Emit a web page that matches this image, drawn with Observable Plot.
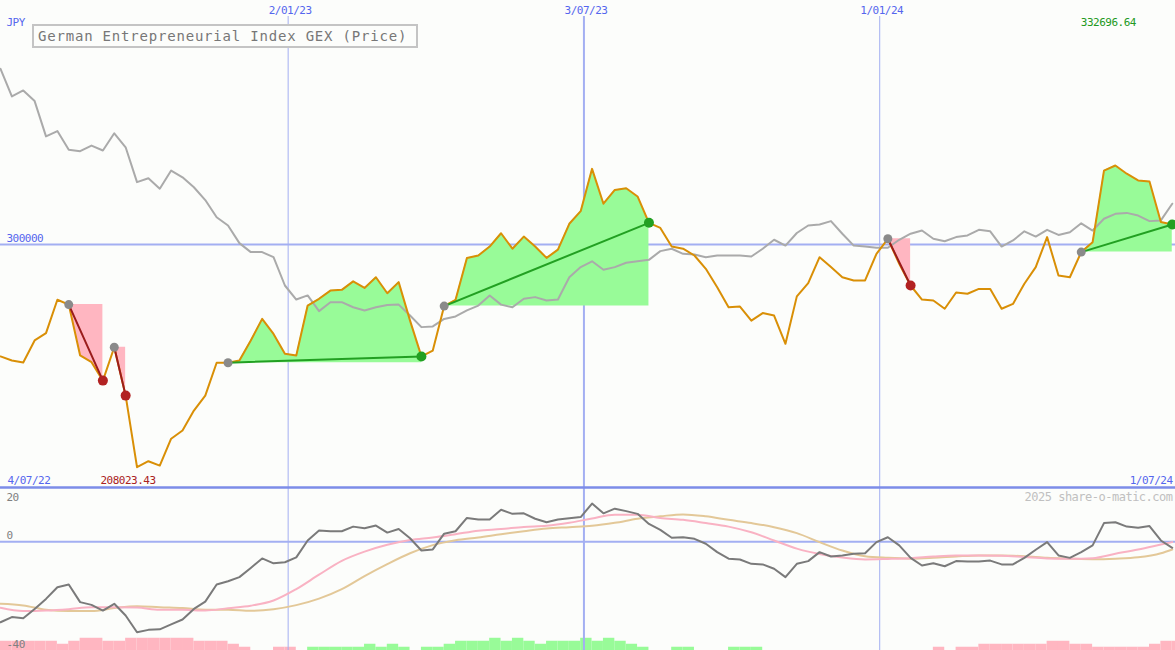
<!DOCTYPE html>
<html>
<head>
<meta charset="utf-8">
<script src="https://cdn.jsdelivr.net/npm/d3@7"></script>
<script src="https://cdn.jsdelivr.net/npm/@observablehq/plot@0.6"></script>
<style>
  html, body { margin: 0; padding: 0; background: #fcfdfb; }
  #wrap { position: relative; width: 1175px; height: 650px; overflow: hidden; background: #fcfdfb; }
  #top, #bot { position: absolute; left: 0; }
  #top { top: 0; }
  #bot { top: 487px; }
  #wrap svg { overflow: visible; }
  #wrap svg text { letter-spacing: -0.5px; }
  #title {
    position: absolute; left: 32px; top: 24px; width: 378px; height: 20px;
    padding-left: 4px; border: 2px solid #c4c4c4; background: #fcfdfb;
    font: 14px "DejaVu Sans Mono", monospace; letter-spacing: 0.8px;
    color: #777; line-height: 21px; white-space: nowrap;
  }
</style>
</head>
<body>
<div id="wrap">
  <div id="top"></div>
  <div id="bot"></div>
  <div id="title"></div>
</div>
<script>
// ---------------- data ----------------
const title = "German Entrepreneurial Index GEX (Price)";
const credit = "2025 share-o-matic.com";
const currency = "JPY";
const firstWeek = "2022-07-09";
const domainStart = "2022-07-09";
const domainEnd = "2024-07-01";
const gridDates = ["2023-01-02", "2023-07-03", "2024-01-01"];
const gridLabels = ["2/01/23", "3/07/23", "1/01/24"];
const startLabel = "4/07/22";
const endLabel = "1/07/24";
const refLevel = 300000;
const refLabel = "300000";
const minLabel = "208023.43";
const maxLabel = "332696.64";
const oscTicks = [20, 0, -40];

// weekly price (orange line)
const price = [
  253800, 252100, 251300, 260400, 263400, 277200, 275200, 254200, 251400, 243800,
  257600, 237600, 208023.43, 210500, 208700, 219800, 223200, 231400, 237600, 251200,
  251200, 252100, 260400, 269300, 263100, 254900, 254200, 274800, 277600, 281000,
  281300, 284800, 282100, 286500, 279900, 284500, 268600, 253800, 256200, 274600,
  277200, 294500, 295500, 299200, 304700, 298300, 303300, 299200, 294500, 297900,
  308600, 313800, 331300, 316900, 322600, 323300, 319900, 309000, 306900, 299200,
  298300, 295500, 290000, 282400, 274100, 274400, 268600, 271700, 270700, 259000,
  278600, 284100, 294800, 290700, 286500, 285200, 285200, 296200, 302400, 292100,
  283100, 277300, 276900, 273500, 280200, 279700, 281700, 281700, 273500, 275500,
  283800, 290700, 303100, 287200, 286500, 296900, 301000, 330600, 332696.64, 329300,
  326500, 326100, 309300, 308300
];

// comparison line (gray)
const compare = [
  372600, 361200, 363700, 359300, 344700, 346900, 339200, 338600, 340900, 338900,
  346000, 340200, 325800, 327400, 323100, 330600, 327800, 323700, 318400, 311300,
  307900, 300600, 296900, 296900, 294800, 283100, 277300, 279000, 272500, 276200,
  276200, 274100, 272800, 274100, 275000, 275200, 270700, 265900, 266200, 269300,
  270300, 272800, 274800, 279000, 275200, 274100, 277600, 278300, 276900, 277300,
  286500, 290700, 293100, 289600, 290700, 292500, 293100, 293700, 297300, 298300,
  296200, 295900, 294800, 295500, 295500, 295500, 295100, 298300, 302000, 299600,
  304800, 307900, 308300, 309700, 304500, 299600, 299200, 298700, 298700, 302000,
  304500, 305800, 302400, 301400, 303100, 303800, 306100, 305500, 299200, 301700,
  305500, 303300, 306100, 304000, 305100, 308800, 305800, 310700, 312700, 313100,
  312000, 309700, 310000, 316900
];

// trades (week index of entry and exit)
const tradeStart = [6, 10, 20, 39, 78, 95];
const tradeEnd   = [9, 11, 37, 57, 80, 103];

// lower panel oscillator (dark gray)
const osc = [
  -29.6, -27.7, -28.1, -24.7, -21.0, -16.7, -15.7, -22.2, -23.2, -25.3,
  -22.8, -27.1, -33.3, -32.4, -32.2, -30.4, -28.6, -24.7, -22.0, -15.7,
  -14.5, -13.0, -9.6, -6.1, -7.9, -7.5, -5.7, 0.5, 4.2, 3.9,
  3.9, 5.6, 5.0, 6.0, 3.4, 4.7, 1.3, -3.2, -2.8, 3.0,
  3.9, 8.8, 8.2, 8.2, 11.8, 10.3, 10.5, 8.5, 7.2, 8.2,
  8.7, 9.1, 14.1, 10.5, 12.2, 11.3, 10.3, 6.6, 4.4, 1.5,
  1.7, 1.1, -0.7, -3.8, -6.2, -6.5, -8.1, -8.3, -9.9, -13.0,
  -8.1, -7.1, -3.8, -5.4, -5.0, -4.4, -4.2, -0.1, 1.7, -1.3,
  -5.9, -8.7, -7.9, -9.0, -7.1, -7.2, -7.2, -6.9, -8.3, -8.3,
  -5.9, -2.9, -0.1, -5.0, -5.9, -3.8, -1.3, 6.9, 7.2, 5.6,
  5.2, 5.8, 0.5, -2.2
];

// smooth signal lines, sampled at these week indices
const smoothWeeks = [0,2,4,6,8,10,12,14,16,18,20,22,24,26,28,30,32,34,36,38,40,42,44,46,48,50,52,
  54,56,58,60,62,64,66,68,70,72,74,76,78,80,82,84,86,88,90,92,94,96,98,100,102,103];
const pinkAvg = [
  -24.3, -25.5, -25.3, -24.8, -24.1, -24.1, -24.2, -25.0, -25.0, -25.3,
  -24.4, -23.5, -21.6, -17.4, -12.1, -7.0, -3.6, -1.1, 0.7, 1.6,
  2.8, 4.1, 4.7, 5.5, 5.9, 7.0, 8.6,
  10.0, 10.0, 8.8, 8.1, 6.9, 5.6, 3.5, 0.5, -2.5, -4.5,
  -5.8, -6.5, -6.3, -6.0, -5.4, -5.0, -5.0, -5.1, -5.6, -6.1,
  -6.2, -6.0, -4.4, -2.8, -1.0, -0.1
];
const tanAvg = [
  -22.8, -23.4, -25.0, -25.5, -25.5, -24.4, -23.7, -24.1, -24.4, -25.0,
  -25.0, -25.4, -24.8, -23.3, -20.9, -17.4, -12.6, -8.2, -4.2, -1.2,
  0.6, 1.6, 2.8, 3.9, 4.9, 5.4, 5.9,
  7.0, 8.5, 9.4, 10.1, 9.4, 8.1, 6.9, 5.4, 3.2, -0.1,
  -3.2, -5.3, -5.9, -6.2, -5.9, -5.4, -5.0, -5.0, -5.3, -5.9,
  -6.2, -6.4, -6.2, -5.7, -4.2, -2.8
];

// weekly histogram (positive = green, negative = pink)
const hist = [
  -3.4, -3.4, -3.4, -3.4, -3.4, -2.3, -3.4, -4.5, -4.5, -3.4,
  -3.4, -4.5, -4.5, -4.5, -4.5, -4.5, -4.5, -3.4, -3.4, -3.4,
  -2.3, -1.2, 0, 0, -1.2, -1.2, 0, 1.2, 1.2, 1.2,
  1.2, 1.2, 2.3, 1.2, 2.3, 1.2, 0, 1.2, 1.2, 2.3,
  3.4, 3.4, 3.4, 4.5, 3.4, 4.5, 3.4, 2.3, 3.4, 3.4,
  3.4, 4.5, 3.4, 4.5, 3.4, 2.3, 1.2, 0, 0, 1.2,
  1.2, 0, 0, 0, 1.2, 1.2, 1.2, 0, 0, 0,
  0, 0, 0, 0, 0, 0, 0, 0, 0, 0,
  0, 0, -1.2, 0, -1.2, -1.2, -2.3, -2.3, -2.3, -2.3,
  -2.3, -2.3, -3.4, -3.4, -2.3, -2.3, -1.2, -1.2, -1.2, -1.2,
  -1.2, -2.3, -3.4, -3.4
];

// ---------------- build ----------------
document.getElementById("title").textContent = title;

const parse = d3.utcParse("%Y-%m-%d");
const t0 = parse(firstWeek);
const dates = price.map((_, i) => d3.utcDay.offset(t0, 7 * i));
const xDomain = [parse(domainStart), parse(domainEnd)];
const W = 1175, H1 = 487, H2 = 163;
const FONT = "DejaVu Sans Mono";
const BLUE_TXT = "#5566ee";
const GRID = "#a3aff2";

const series = dates.map((d, i) => ({date: d, price: price[i], compare: compare[i], osc: osc[i]}));
const grid = gridDates.map((d, i) => ({date: parse(d), label: gridLabels[i], w: i === 1 ? 2 : 1}));
const smooth = smoothWeeks.map((w, j) => ({date: dates[w], pink: pinkAvg[j], tan: tanAvg[j]}));
const bars = hist.map((v, i) => ({d1: dates[i], d2: d3.utcDay.offset(dates[i], 7), v}));

const trades = tradeStart.map((s, k) => {
  const e = tradeEnd[k];
  const win = price[e] > price[s];
  return {
    win,
    rows: d3.range(s, e + 1).map(i => ({date: dates[i], price: price[i], base: price[s]})),
    seg: [{date: dates[s], price: price[s]}, {date: dates[e], price: price[e]}]
  };
});

const txt = (data, opts) => Plot.text(data, {fontFamily: FONT, fontSize: 11, lineAnchor: "bottom", ...opts});

const topMarks = [
  Plot.ruleX(grid, {x: "date", stroke: GRID, strokeWidth: d => d.w, insetTop: 16}),
  Plot.ruleY([refLevel], {stroke: GRID, strokeWidth: 2}),
  ...trades.map(t => Plot.areaY(t.rows, {x: "date", y1: "base", y2: "price", fill: t.win ? "#98fb98" : "#ffb6c1"})),
  Plot.line(series, {x: "date", y: "compare", stroke: "#aaaaaa", strokeWidth: 2}),
  Plot.line(series, {x: "date", y: "price", stroke: "#d98f06", strokeWidth: 2}),
  ...trades.map(t => Plot.line(t.seg, {x: "date", y: "price", stroke: t.win ? "#22a022" : "#9b1c1c", strokeWidth: 2})),
  ...trades.map(t => Plot.dot([t.seg[0]], {x: "date", y: "price", r: 4.5, fill: "#8a8a8a"})),
  ...trades.map(t => Plot.dot([t.seg[1]], {x: "date", y: "price", r: 5, fill: t.win ? "#22a022" : "#b22222"})),
  txt(grid, {x: "date", text: "label", frameAnchor: "top", dy: 13, dx: 2, fill: BLUE_TXT}),
  txt([currency], {text: d => d, frameAnchor: "top-left", dx: 6, dy: 25, textAnchor: "start", fill: BLUE_TXT}),
  txt([maxLabel], {x: () => dates[98], text: d => d, frameAnchor: "top", dy: 25, dx: -7, fill: "#229922"}),
  txt([refLevel], {y: d => d, text: () => refLabel, frameAnchor: "left", dx: 6, dy: -3, textAnchor: "start", fill: BLUE_TXT}),
  txt([startLabel], {text: d => d, frameAnchor: "bottom-left", dx: 7, dy: -4, textAnchor: "start", fill: BLUE_TXT}),
  txt([minLabel], {x: () => dates[12], text: d => d, frameAnchor: "bottom", dx: -9, dy: -4, fill: "#aa2222"}),
  txt([endLabel], {text: d => d, frameAnchor: "bottom-right", dx: -3, dy: -4, textAnchor: "end", fill: BLUE_TXT})
];

const topPlot = Plot.plot({
  width: W, height: H1, margin: 0,
  x: {type: "utc", domain: xDomain, axis: null},
  y: {domain: [199634, 400862], axis: null},
  style: {background: "transparent", overflow: "visible"},
  marks: topMarks
});
document.getElementById("top").appendChild(topPlot);

const botPlot = Plot.plot({
  width: W, height: H2, margin: 0,
  x: {type: "utc", domain: xDomain, axis: null},
  y: {domain: [-40, 20], axis: null},
  style: {background: "transparent", overflow: "visible"},
  marks: [
    Plot.rectY(bars.filter(b => b.v < 0), {x1: "d1", x2: "d2", y1: -40, y2: b => -40 - b.v, fill: "#ffb6c1"}),
    Plot.rectY(bars.filter(b => b.v > 0), {x1: "d1", x2: "d2", y1: -40, y2: b => -40 + b.v, fill: "#98fb98"}),
    Plot.ruleX(grid, {x: "date", stroke: GRID, strokeWidth: d => d.w}),
    Plot.ruleY([0], {stroke: GRID, strokeWidth: 2}),
    Plot.line(smooth, {x: "date", y: "tan", stroke: "#e3c898", strokeWidth: 2, curve: "monotone-x"}),
    Plot.line(smooth, {x: "date", y: "pink", stroke: "#f9b2c3", strokeWidth: 2, curve: "monotone-x"}),
    Plot.line(series, {x: "date", y: "osc", stroke: "#7a7a7a", strokeWidth: 2}),
    Plot.ruleY([20], {stroke: "#7d8ce8", strokeWidth: 2.5}),
    txt([oscTicks[0]], {text: d => String(d), frameAnchor: "top-left", dx: 6, dy: 13, textAnchor: "start", fill: "#808080"}),
    txt([oscTicks[1]], {y: d => d, text: d => String(d), frameAnchor: "left", dx: 6, dy: -2.5, textAnchor: "start", fill: "#808080"}),
    txt([oscTicks[2]], {text: d => String(d), frameAnchor: "bottom-left", dx: 6, dy: -3, textAnchor: "start", fill: "#808080"}),
    txt([credit], {text: d => d, frameAnchor: "top-right", dx: -3, dy: 13, textAnchor: "end", fill: "#c0c0c0", fontSize: 12})
  ]
});
document.getElementById("bot").appendChild(botPlot);
</script>
</body>
</html>
